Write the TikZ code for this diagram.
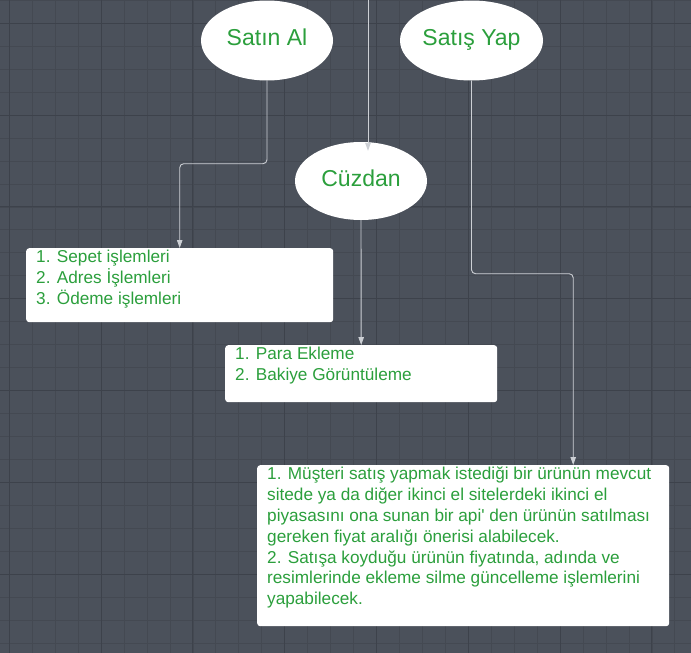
\documentclass[tikz,border=0pt]{standalone}
\usepackage{fontspec}
\setmainfont{Liberation Sans}
\usetikzlibrary{shapes.geometric,arrows.meta}

\definecolor{zemin}{RGB}{75,81,91}
\definecolor{cizgi}{RGB}{68,73,82}
\definecolor{anacizgi}{RGB}{61,66,75}
\definecolor{yesil}{RGB}{43,159,60}
\definecolor{okrengi}{RGB}{205,208,213}

\tikzset{
    dugum/.style={ellipse, fill=white, text=yesil, inner sep=0pt,
        font=\fontsize{23}{27}\selectfont, text height=17pt, text depth=7pt},
    kutu/.style={rectangle, rounded corners=3pt, fill=white, inner sep=0pt, anchor=north west},
    yazi/.style={text=yesil, inner sep=0pt, align=left, anchor=north west,
        font=\fontsize{17.2}{20.8}\selectfont},
    baglanti/.style={draw=okrengi, line width=0.9pt, rounded corners=4pt,
        -{Triangle[width=5.5pt,length=8pt]}}
}

\begin{document}
\begin{tikzpicture}[x=1pt,y=-1pt]
    \fill[zemin] (0,0) rectangle (691,653);
    \useasboundingbox (0,0) rectangle (691,653);

    % grid
    \foreach \i in {0,...,29}
        \draw[cizgi, line width=0.8pt] ({9.3+\i*22.95},0) -- ({9.3+\i*22.95},653);
    \foreach \i in {0,...,28}
        \draw[cizgi, line width=0.8pt] (0,{0.35+\i*22.95}) -- (691,{0.35+\i*22.95});
    \foreach \i in {0,4,...,28}
        \draw[anacizgi, line width=1pt] ({9.3+\i*22.95},0) -- ({9.3+\i*22.95},653);
    \foreach \i in {1,5,...,28}
        \draw[anacizgi, line width=1pt] (0,{0.35+\i*22.95}) -- (691,{0.35+\i*22.95});

    % ellipses
    \node[dugum, minimum width=132pt, minimum height=80pt] (satinal) at (267,40.5) {Satın Al};
    \node[dugum, minimum width=143pt, minimum height=80pt] (satisyap) at (471.5,40.5) {Satış Yap};
    \node[dugum, minimum width=132pt, minimum height=78pt] (cuzdan) at (361,181) {Cüzdan};

    % boxes
    \node[kutu, minimum width=307pt, minimum height=74pt] (sepet) at (26,248) {};
    \node[yazi] (sepetyazi) at ([xshift=10pt, yshift=-2pt]sepet.north west)
        {1. Sepet işlemleri\\2. Adres İşlemleri\\3. Ödeme işlemleri};

    \node[kutu, minimum width=272pt, minimum height=57pt] (bakiye) at (225,345) {};
    \node[yazi] (bakiyeyazi) at ([xshift=10pt, yshift=-2pt]bakiye.north west)
        {1. Para Ekleme\\2. Bakiye Görüntüleme};

    \node[kutu, minimum width=412pt, minimum height=161pt] (satis) at (257,465) {};
    \node[yazi] (satisyazi) at ([xshift=10pt, yshift=-2pt]satis.north west)
        {1. Müşteri satış yapmak istediği bir ürünün mevcut\\
         sitede ya da diğer ikinci el sitelerdeki ikinci el\\
         piyasasını ona sunan bir api\textquotesingle{} den ürünün satılması\\
         gereken fiyat aralığı önerisi alabilecek.\\
         2. Satışa koyduğu ürünün fiyatında, adında ve\\
         resimlerinde ekleme silme güncelleme işlemlerini\\
         yapabilecek.};

    % connectors
    \coordinate (ust) at (368,0);
    \draw[baglanti] (satinal.south) -- ++(0,83) -| (sepet.north);
    \draw[baglanti] (cuzdan.south) -- (bakiye.north);
    \draw[baglanti] (satisyap.south) -- ++(0,193) -| ([xshift=110pt]satis.north);
    \draw[baglanti, shorten >=-9pt] (ust) -- (ust |- cuzdan.north);
\end{tikzpicture}
\end{document}
